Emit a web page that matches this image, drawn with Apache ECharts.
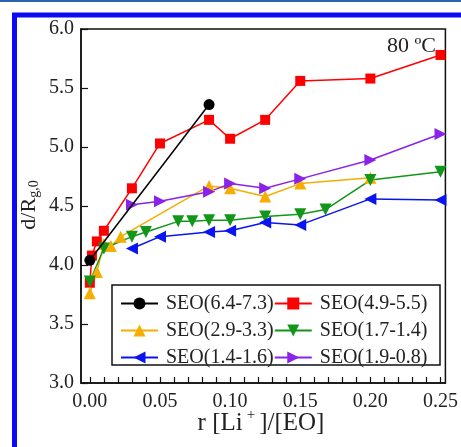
<!DOCTYPE html>
<html>
<head>
<meta charset="utf-8">
<script src="https://cdn.jsdelivr.net/npm/echarts@6/dist/echarts.min.js"></script>
<style>
html,body{margin:0;padding:0;background:#fff;}
#chart{width:461px;height:447px;}
</style>
</head>
<body>
<div id="chart"></div>
<script>
// ---- data ----
const seriesNames = ['SEO(6.4-7.3)', 'SEO(4.9-5.5)', 'SEO(2.9-3.3)', 'SEO(1.7-1.4)', 'SEO(1.4-1.6)', 'SEO(1.9-0.8)'];
const black = [[0, 4.04], [0.085, 5.36]];
const red = [[0, 3.85], [0.0015, 4.08], [0.005, 4.2], [0.01, 4.29], [0.03, 4.65], [0.05, 5.03], [0.085, 5.23], [0.1, 5.07], [0.125, 5.23], [0.15, 5.56], [0.2, 5.58], [0.25, 5.78]];
const orange = [[0, 3.76], [0.005, 3.94], [0.01, 4.18], [0.015, 4.16], [0.022, 4.24], [0.085, 4.67], [0.1, 4.65], [0.125, 4.58], [0.15, 4.69], [0.2, 4.74]];
const green = [[0, 3.86], [0.01, 4.14], [0.03, 4.24], [0.04, 4.28], [0.063, 4.37], [0.073, 4.37], [0.085, 4.38], [0.1, 4.38], [0.125, 4.41], [0.15, 4.43], [0.168, 4.47], [0.2, 4.72], [0.25, 4.79]];
const blue = [[0.03, 4.14], [0.05, 4.24], [0.085, 4.28], [0.1, 4.29], [0.125, 4.36], [0.15, 4.34], [0.2, 4.56], [0.25, 4.55]];
const purple = [[0.03, 4.51], [0.05, 4.54], [0.085, 4.62], [0.1, 4.69], [0.125, 4.65], [0.15, 4.73], [0.2, 4.89], [0.25, 5.11]];
const xLabelValues = [0, 0.05, 0.1, 0.15, 0.2, 0.25];
const xTickValues = [0, 0.01, 0.02, 0.03, 0.04, 0.05, 0.06, 0.07, 0.08, 0.09, 0.1, 0.11, 0.12, 0.13, 0.14, 0.15, 0.16, 0.17, 0.18, 0.19, 0.2, 0.21, 0.22, 0.23, 0.24, 0.25];

const FONT = 'Liberation Serif';
const TXT = '#222';

function mk(name, data, color, symbol, size, rot, z) {
  return {
    name: name, type: 'line', data: data, z: z || 2,
    symbol: symbol, symbolSize: size, symbolRotate: rot || 0,
    lineStyle: { color: color, width: 1.5 },
    itemStyle: { color: color },
    color: color,
    animation: false
  };
}

const chart = echarts.init(document.getElementById('chart'), null, { renderer: 'canvas' });
chart.setOption({
  backgroundColor: '#fff',
  animation: false,
  grid: { left: 81, right: 8, top: 29, bottom: 64, show: true, borderColor: '#111', borderWidth: 1.5, backgroundColor: '#fff' },
  xAxis: {
    type: 'value', min: -0.0063, max: 0.2535,
    axisLine: { show: true, onZero: false, lineStyle: { color: '#111', width: 1.5 } },
    axisTick: { show: true, inside: true, length: 6, customValues: xTickValues, lineStyle: { color: '#111', width: 1.2 } },
    axisLabel: { customValues: xLabelValues, margin: 9, fontFamily: FONT, fontSize: 20, color: TXT,
      formatter: v => v.toFixed(2) },
    splitLine: { show: false }
  },
  yAxis: {
    type: 'value', min: 3, max: 6, interval: 0.5,
    axisLine: { show: true, onZero: false, lineStyle: { color: '#111', width: 1.5 } },
    axisTick: { show: true, inside: true, length: 7, lineStyle: { color: '#111', width: 1.2 } },
    axisLabel: { margin: 7, fontFamily: FONT, fontSize: 20, color: TXT, formatter: v => v.toFixed(1) },
    splitLine: { show: false }
  },
  legend: {
    left: 112, top: 290, width: 320,
    padding: [0, 0, 0, 8],
    itemGap: 0,
    itemWidth: 37, itemHeight: 15,
    borderWidth: 0,
    z: 10,
    textStyle: { fontFamily: FONT, fontSize: 20, color: TXT, lineHeight: 27, padding: [0, 0, 0, 3] },
    data: seriesNames
  },
  series: [
    mk(seriesNames[0], black, '#000000', 'circle', 11, 0, 3),
    mk(seriesNames[1], red, '#ff0000', 'rect', 10),
    mk(seriesNames[2], orange, '#f5ad00', 'triangle', 12),
    mk(seriesNames[3], green, '#11961a', 'triangle', 12, 180),
    mk(seriesNames[4], blue, '#0a14f0', 'triangle', 12, 90),
    mk(seriesNames[5], purple, '#8a22e8', 'triangle', 12, -90)
  ],
  graphic: [
    { type: 'rect', z: 5, silent: true, shape: { x: 112, y: 285, width: 328, height: 80 },
      style: { fill: '#fff', stroke: '#111', lineWidth: 1.5 } },
    { type: 'rect', z: 100, silent: true, shape: { x: 14.5, y: 15, width: 1000, height: 1000 },
      style: { fill: null, stroke: '#0a0af5', lineWidth: 5 } },
    { type: 'line', z: 100, silent: true, shape: { x1: 0, y1: 1, x2: 461, y2: 1 },
      style: { stroke: '#2a64b0', lineWidth: 2 } },
    { type: 'text', z: 100, x: 436, y: 46,
      style: { text: '80 ºC', fontFamily: FONT, fontSize: 22, fill: TXT, align: 'right', verticalAlign: 'middle' } },
    { type: 'text', z: 100, x: 29, y: 205, rotation: Math.PI / 2,
      style: { text: '{a|d/R}{b|g,0}', align: 'center', verticalAlign: 'middle',
        rich: { a: { fontFamily: FONT, fontSize: 22, fill: TXT, color: TXT },
                b: { fontFamily: FONT, fontSize: 14, fill: TXT, color: TXT, padding: [11, 0, 0, 0] } } } },
    { type: 'text', z: 100, x: 261, y: 423,
      style: { text: '{a|r [Li}{s|+}{a|]/[EO]}', align: 'center', verticalAlign: 'middle',
        rich: { a: { fontFamily: FONT, fontSize: 25, fill: TXT, color: TXT },
                s: { fontFamily: FONT, fontSize: 15, fill: TXT, color: TXT, padding: [0, 4, 16, 4] } } } }
  ]
});
</script>
</body>
</html>
